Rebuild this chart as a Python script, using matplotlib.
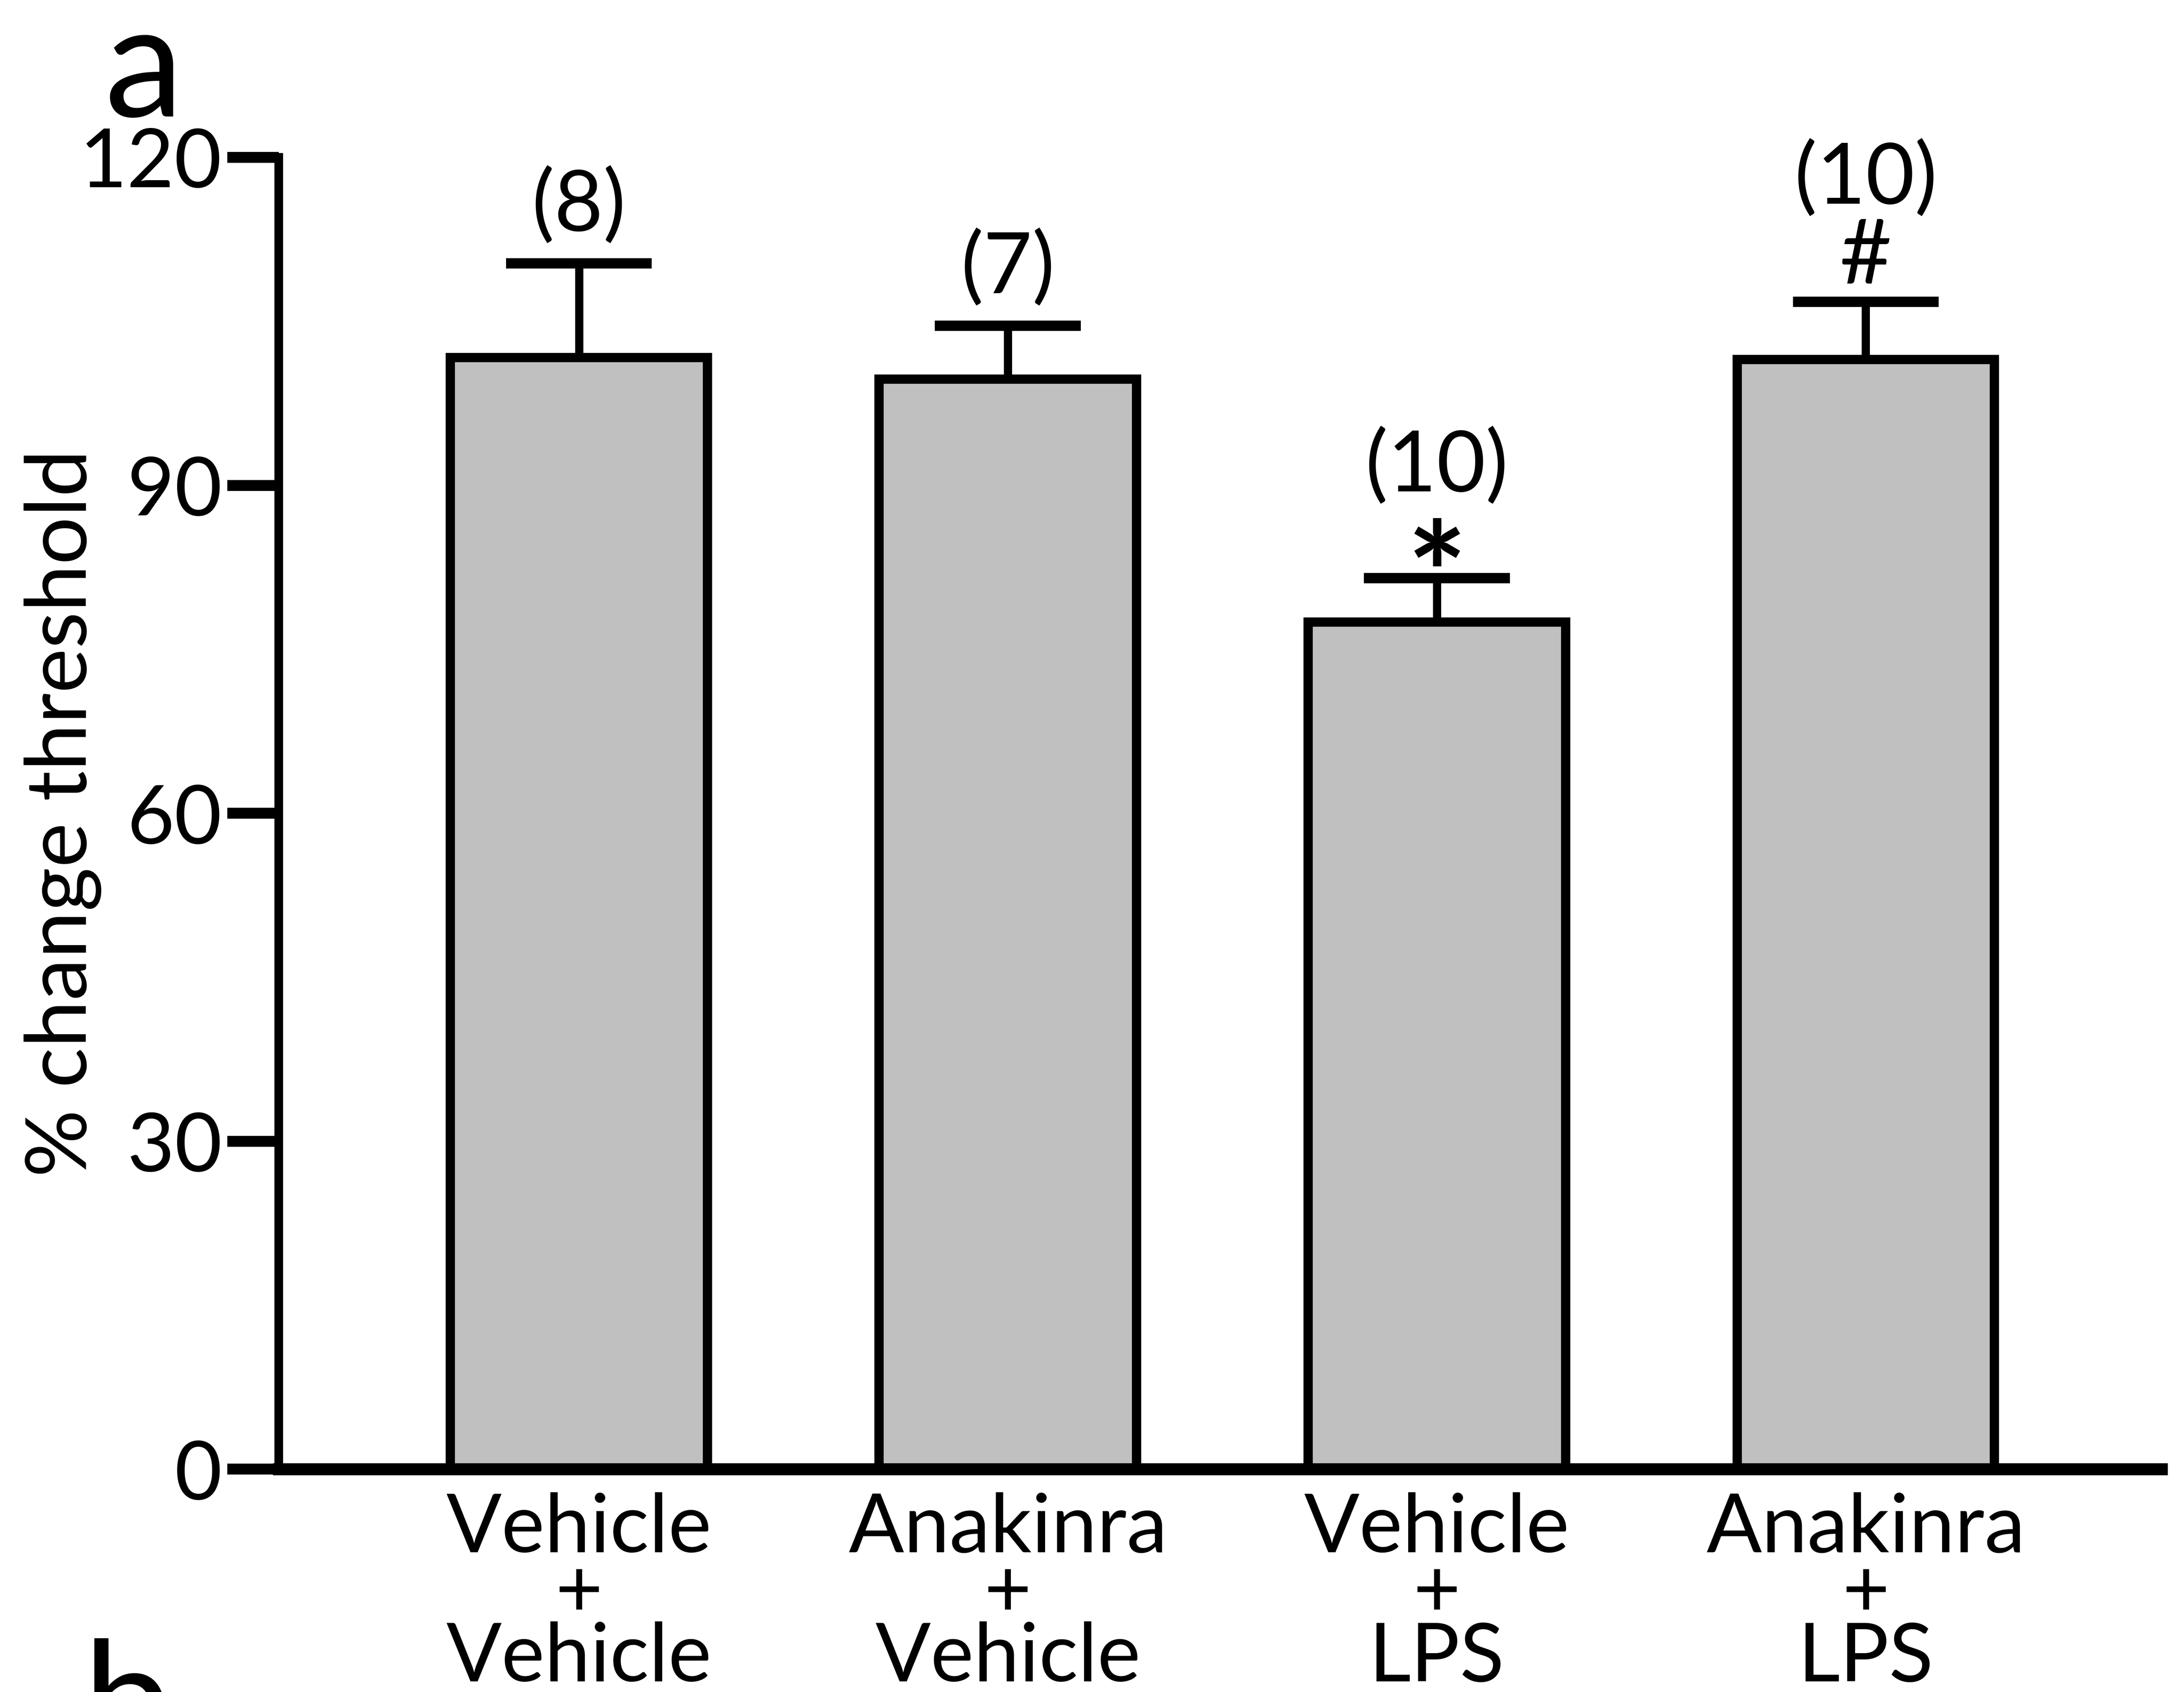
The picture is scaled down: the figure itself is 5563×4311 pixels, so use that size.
import numpy as np
import matplotlib.pyplot as plt

plt.rcParams['font.family'] = ['Lato', 'DejaVu Sans']

groups = ['Vehicle\n+\nVehicle', 'Anakinra\n+\nVehicle', 'Vehicle\n+\nLPS', 'Anakinra\n+\nLPS']
means = [101.7, 99.7, 77.5, 101.5]
sems = [8.6, 4.9, 4.0, 5.3]
n_labels = ['(8)', '(7)', '(10)', '(10)']
marks = ['', '', '*', '#']

fig = plt.figure(figsize=(55.63, 43.11), dpi=100)
ax = fig.add_axes([0.1276, 0.1317, 0.8622, 0.7753])

x = np.arange(len(groups))
means = np.array(means)
sems = np.array(sems)

# error bars (upper half only) behind the bars
ax.vlines(x, means, means + sems, color='black', linewidth=15, zorder=1)
ax.hlines(means + sems, x - 0.17, x + 0.17, color='black', linewidth=19, zorder=1)

ax.bar(x, means, width=0.6, color='#c0c0c0', edgecolor='black', linewidth=17, zorder=2)

tops = means + sems
for i in range(len(x)):
    if marks[i] == '*':
        ax.annotate(marks[i], (x[i], tops[i]), xytext=(0, -12), textcoords='offset points',
                    ha='center', va='center', fontsize=260, fontweight='bold')
        ax.annotate(n_labels[i], (x[i], tops[i]), xytext=(0, 205), textcoords='offset points',
                    ha='center', va='center', fontsize=155)
    elif marks[i] == '#':
        ax.annotate(marks[i], (x[i], tops[i]), xytext=(0, 80), textcoords='offset points',
                    ha='center', va='center', fontsize=165)
        ax.annotate(n_labels[i], (x[i], tops[i]), xytext=(0, 225), textcoords='offset points',
                    ha='center', va='center', fontsize=155)
    else:
        ax.annotate(n_labels[i], (x[i], tops[i]), xytext=(0, 105), textcoords='offset points',
                    ha='center', va='center', fontsize=155)

ax.set_xlim(-0.70, 3.69)
ax.set_ylim(0, 120)
ax.set_yticks([0, 30, 60, 90, 120])
ax.set_xticks(x)
ax.set_xticklabels(groups, fontsize=150, linespacing=0.84)

ax.spines['top'].set_visible(False)
ax.spines['right'].set_visible(False)
ax.spines['left'].set_linewidth(16)
ax.spines['bottom'].set_linewidth(22)
ax.spines['left'].set_bounds(0, 120)

ax.tick_params(axis='y', direction='out', length=94, width=20, pad=10, labelsize=150)
ax.tick_params(axis='x', length=0, pad=42)

ax.set_ylabel('% change threshold', fontsize=155)
ax.yaxis.set_label_coords(-0.094, 0.5)

fig.text(0.048, 1.0, 'a', fontsize=290, ha='left', va='top')
fig.text(0.038, -0.053, 'b', fontsize=290, ha='left', va='bottom')

fig.savefig('out.png', dpi=100)
